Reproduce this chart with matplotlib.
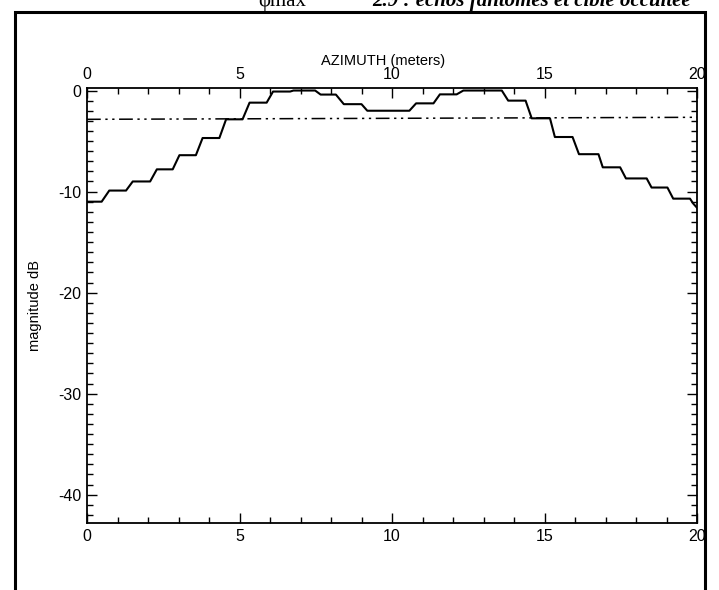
import numpy as np
import matplotlib.pyplot as plt
from matplotlib.patches import Rectangle
from matplotlib.ticker import MultipleLocator

# ============================
# Data
# ============================
azimuth_m = [0.0, 0.48, 0.73, 1.28, 1.50, 2.07, 2.29, 2.81, 3.03, 3.57, 3.79, 4.34,
             4.56, 5.10, 5.33, 5.89, 6.10, 6.66, 6.77, 7.48, 7.66, 8.16, 8.42, 9.00,
             9.19, 10.57, 10.79, 11.36, 11.57, 12.12, 12.34, 13.60, 13.81, 14.38,
             14.58, 15.18, 15.34, 15.92, 16.13, 16.77, 16.91, 17.48, 17.67, 18.35,
             18.51, 19.03, 19.22, 19.77, 19.88, 20.0]
magnitude_db = [-11.0, -11.0, -9.9, -9.9, -9.0, -9.0, -7.8, -7.8, -6.4, -6.4, -4.7, -4.7,
                -2.85, -2.85, -1.2, -1.2, -0.1, -0.1, 0.0, 0.0, -0.4, -0.4, -1.35, -1.35,
                -2.0, -2.0, -1.27, -1.27, -0.38, -0.38, 0.0, 0.0, -1.0, -1.0,
                -2.75, -2.75, -4.6, -4.6, -6.3, -6.3, -7.6, -7.6, -8.7, -8.7,
                -9.6, -9.6, -10.7, -10.7, -11.2, -11.6]

ref_x = [0, 20]
ref_db = [-2.85, -2.65]

x_ticks = [0, 5, 10, 15, 20]
y_ticks = [0, -10, -20, -30, -40]

# ============================
# Figure
# ============================
plt.rcParams['font.family'] = ['Liberation Sans', 'DejaVu Sans']
plt.rcParams['axes.unicode_minus'] = False

fig = plt.figure(figsize=(7.19, 5.90), dpi=100)
ax = fig.add_axes([87 / 719, 1 - 523 / 590, 610 / 719, 435 / 590])

ax.plot(azimuth_m, magnitude_db, color='black', lw=1.5)
ax.plot(ref_x, ref_db, color='black', lw=1.1, linestyle=(0, (9, 3, 1.5, 3, 1.5, 3)))

ax.set_xlim(0, 20)
ax.set_ylim(-42.8, 0.25)
ax.set_xticks(x_ticks)
ax.set_yticks(y_ticks)
ax.xaxis.set_minor_locator(MultipleLocator(1))
ax.yaxis.set_minor_locator(MultipleLocator(1))
ax.tick_params(which='both', direction='in', top=True, right=True,
               labeltop=True, labelsize=11.5, width=1.0, colors='black')
ax.tick_params(which='major', length=7, pad=4)
ax.tick_params(which='minor', length=4)
for s in ax.spines.values():
    s.set_linewidth(1.3)

ax.set_ylabel("magnitude dB", fontsize=10.5, labelpad=12)
fig.text(383 / 719, 1 - 61 / 590, "AZIMUTH (meters)", ha='center', va='center', fontsize=10.5)

# outer page frame (cut off at the bottom)
fig.patches.append(Rectangle((15 / 719, -0.05), 690 / 719, 1.05 - 12 / 590,
                             transform=fig.transFigure, fill=False,
                             edgecolor='black', lw=2.2))

# page caption, cropped at the top of the scan
fig.text(258 / 719, 1 - 6 / 590, "φmax", family=['Liberation Serif', 'DejaVu Serif'],
         fontsize=15, va='baseline')
fig.text(372 / 719, 1 - 6 / 590, "2.9 : échos fantômes et cible occultée",
         family=['Liberation Serif', 'DejaVu Serif'], fontsize=15,
         style='italic', weight='bold', va='baseline')

plt.savefig("out.png", dpi=100)
